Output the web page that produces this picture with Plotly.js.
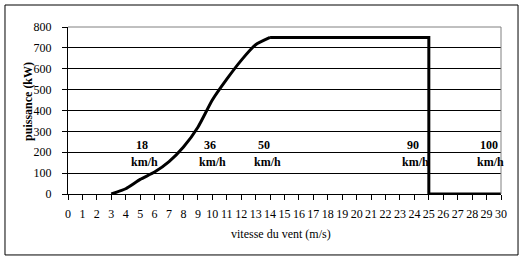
<!DOCTYPE html>
<html>
<head>
<meta charset="utf-8">
<script src="https://cdn.plot.ly/plotly-3.0.1.min.js"></script>
<style>html,body{margin:0;padding:0;background:#fff;}#chart{width:524px;height:261px;}</style>
</head>
<body>
<div id="chart"></div>
<script>
// wind speed (m/s) and power (kW)
const windSpeed = [3, 4, 5, 6, 7, 8, 9, 10, 11, 12, 13, 14, 15, 16, 17, 18, 19, 20, 21, 22, 23, 24, 25, 25, 26, 27, 28, 29, 30];
const power     = [0, 25, 70, 105, 155, 225, 320, 450, 550, 640, 715, 750, 750, 750, 750, 750, 750, 750, 750, 750, 750, 750, 750, 0, 0, 0, 0, 0, 0];

const xTicks = [0,1,2,3,4,5,6,7,8,9,10,11,12,13,14,15,16,17,18,19,20,21,22,23,24,25,26,27,28,29,30];
const yTicks = [0,100,200,300,400,500,600,700,800];

// speed labels in km/h: number, x position (m/s)
const kmhValues = ["18", "36", "50", "90", "100"];
const kmhX      = [5.15, 9.85, 13.6, 23.9, 29.2];
const kmhUnitX  = [5.3, 10.0, 13.8, 24.1, 29.3];
const numY = 235;
const unitY = 153;

const xTitle = 'vitesse du vent (m/s)';
const yTitle = 'puissance (kW)';

const font = "Times New Roman, Liberation Serif, DejaVu Serif, serif";

const annotations = [];
kmhValues.forEach((v, i) => {
  annotations.push({x: kmhX[i], y: numY, xref: 'x', yref: 'y', text: '<b>' + v + '</b>', showarrow: false,
    font: {family: font, size: 12, color: '#000'}});
  annotations.push({x: kmhUnitX[i], y: unitY, xref: 'x', yref: 'y', text: '<b>km/h</b>', showarrow: false,
    font: {family: font, size: 12, color: '#000'}});
});
// axis titles placed as in the original figure
annotations.push({x: 0.492, y: -0.2395, xref: 'paper', yref: 'paper', xanchor: 'center', yanchor: 'middle',
  text: xTitle, showarrow: false, font: {family: font, size: 12, color: '#000'}});
annotations.push({x: -0.0924, y: 0.557, xref: 'paper', yref: 'paper', xanchor: 'center', yanchor: 'middle',
  text: '<b>' + yTitle + '</b>', textangle: -90, showarrow: false, font: {family: font, size: 12, color: '#000'}});

const split = 11; // index where the plateau begins
const rising = {
  x: windSpeed.slice(0, split + 1), y: power.slice(0, split + 1), type: 'scatter', mode: 'lines',
  line: {color: '#000', width: 3, shape: 'spline', smoothing: 0.5},
  hoverinfo: 'none'
};
const plateau = {
  x: windSpeed.slice(split), y: power.slice(split), type: 'scatter', mode: 'lines',
  line: {color: '#000', width: 3, shape: 'linear'},
  hoverinfo: 'none', cliponaxis: false
};

const layout = {
  width: 524, height: 261,
  margin: {l: 68, r: 23, t: 27, b: 67},
  paper_bgcolor: '#fff', plot_bgcolor: '#fff',
  showlegend: false,
  font: {family: font, size: 11, color: '#000'},
  xaxis: {
    range: [0, 30], tickvals: xTicks, ticktext: xTicks.map(String),
    ticks: 'outside', ticklen: 5, tickcolor: '#000', tickwidth: 1,
    showline: true, linecolor: '#000', linewidth: 1,
    showgrid: false, zeroline: false, ticklabelstandoff: 4,
    tickfont: {family: font, size: 12, color: '#000'}
  },
  yaxis: {
    range: [0, 800], tickvals: yTicks, ticktext: yTicks.map(String),
    ticks: 'outside', ticklen: 5, tickcolor: '#000', tickwidth: 1,
    showline: true, linecolor: '#000', linewidth: 1,
    showgrid: true, gridcolor: '#000', gridwidth: 1, zeroline: false,
    ticklabelstandoff: 8,
    tickfont: {family: font, size: 12, color: '#000'}
  },
  annotations: annotations,
  shapes: [
    {type: 'line', xref: 'paper', yref: 'paper', x0: 0, x1: 1, y0: 1, y1: 1, line: {color: '#808080', width: 1}},
    {type: 'line', xref: 'paper', yref: 'paper', x0: 1, x1: 1, y0: 0, y1: 1, line: {color: '#808080', width: 1}},
    {type: 'rect', xref: 'paper', yref: 'paper', x0: -0.1455, x1: 1.0393, y0: -0.365, y1: 1.1317, line: {color: '#000', width: 1}, layer: 'below'}
  ]
};

Plotly.newPlot('chart', [rising, plateau], layout, {staticPlot: true, displayModeBar: false});
</script>
</body>
</html>
